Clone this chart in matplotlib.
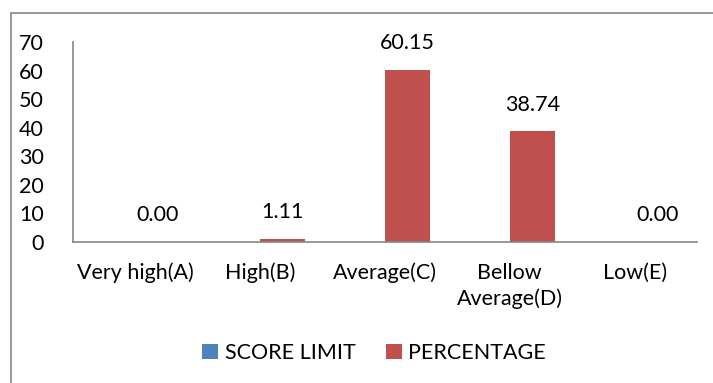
import numpy as np
import matplotlib
matplotlib.use("Agg")
import matplotlib.pyplot as plt
from matplotlib.patches import Rectangle

categories = ["Very high(A)", "High(B)", "Average(C)", "Bellow\nAverage(D)", "Low(E)"]
score_limit = [0, 0, 0, 0, 0]
percentage = [0.00, 1.11, 60.15, 38.74, 0.00]
yticks = [0, 10, 20, 30, 40, 50, 60, 70]

BLUE = "#4F81BD"; RED = "#C0504D"; GREY = "#868686"
plt.rcParams["font.family"] = ["Lato", "DejaVu Sans"]
FS = 15.5

W, H = 713, 383
fig = plt.figure(figsize=(W/100, H/100), dpi=100)
ax = fig.add_axes([73/W, 1-242/H, (697-73)/W, 200/H])

# outer chart frame (cut off at right/bottom)
fig.patches.append(Rectangle((11/W, -0.1), 1.2, 1.1-13/H, transform=fig.transFigure,
                             fill=False, edgecolor=GREY, lw=1.2))

x = np.arange(len(categories)); w = 0.36
ax.bar(x-w/2, score_limit, w, color=BLUE, label="SCORE LIMIT")
ax.bar(x+w/2, percentage, w, color=RED, label="PERCENTAGE")
for xi, v in zip(x, percentage):
    ax.annotate(f"{v:.2f}", (xi+w/2, v), xytext=(0, 12), textcoords="offset points",
                ha="center", va="bottom", fontsize=FS, color="black")

ax.set_xlim(-0.5, len(categories)-0.5)
ax.set_ylim(0, 70)
ax.set_yticks(yticks)
ax.set_xticks(x)
ax.set_xticklabels(categories, fontsize=FS, linespacing=1.35)
ax.tick_params(axis="both", length=0, labelsize=FS)
ax.tick_params(axis="y", pad=21)
ax.tick_params(axis="x", pad=15)
for s in ["top", "right"]:
    ax.spines[s].set_visible(False)
for s in ["left", "bottom"]:
    ax.spines[s].set_color(GREY); ax.spines[s].set_linewidth(1.2)

fig.legend(loc="center", bbox_to_anchor=(374/W, 1-353/H), ncol=2, frameon=False,
           fontsize=FS, handlelength=0.75, handleheight=0.75, handletextpad=0.3,
           columnspacing=1.4)

fig.savefig("out.png", dpi=100)
